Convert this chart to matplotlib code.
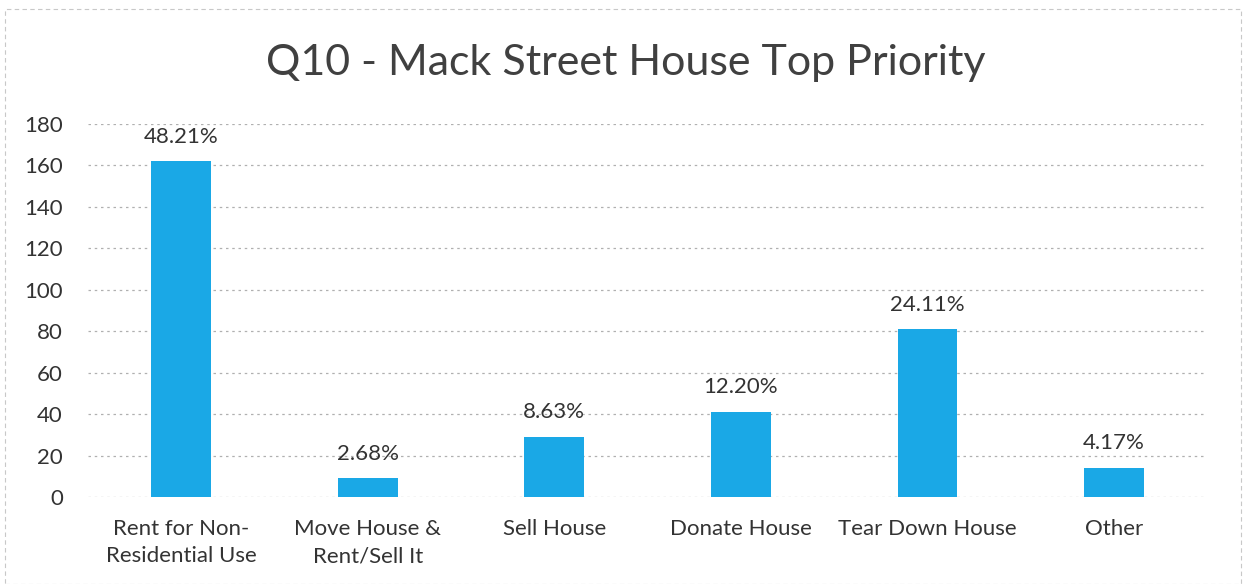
import matplotlib
matplotlib.use('Agg')
from matplotlib import pyplot as plt
from matplotlib.patches import Rectangle

# Data
categories = ['Rent for Non-\nResidential Use', 'Move House &\nRent/Sell It', 'Sell House',
              'Donate House', 'Tear Down House', 'Other']
counts = [162, 9, 29, 41, 81, 14]
pct_labels = ['48.21%', '2.68%', '8.63%', '12.20%', '24.11%', '4.17%']
yticks = [0, 20, 40, 60, 80, 100, 120, 140, 160, 180]

plt.rcParams['font.family'] = ['Lato', 'DejaVu Sans']

fig = plt.figure(figsize=(12.51, 5.84), dpi=100)
ax = fig.add_axes([0.0703, 0.149, 0.8947, 0.639])

x = range(len(categories))
bars = ax.bar(x, counts, width=0.32, color='#1aa8e6', zorder=3)
for b, lab in zip(bars, pct_labels):
    ax.text(b.get_x() + b.get_width() / 2, b.get_height() + 7, lab,
            ha='center', va='bottom', fontsize=16, color='#333333')

ax.set_xlim(-0.5, len(categories) - 0.5)
ax.set_ylim(0, 180)
ax.set_yticks(yticks)
ax.set_xticks(list(x))
ax.set_xticklabels(categories, fontsize=16, color='#333333', linespacing=1.45)
ax.tick_params(axis='y', labelsize=16, labelcolor='#333333', length=0, pad=18)
ax.tick_params(axis='x', length=0, pad=16)
ax.yaxis.grid(True, color='#b0b0b0', linestyle=(0, (2, 3)), linewidth=0.9, zorder=0)
for s in ax.spines.values():
    s.set_visible(False)

fig.suptitle('Q10 - Mack Street House Top Priority', fontsize=31, color='#404040', y=0.925)

# faint chart border
fig.patches.append(Rectangle((0.004, 0.0), 0.988, 0.985, transform=fig.transFigure,
                             fill=False, edgecolor='#c8c8c8', linewidth=0.8,
                             linestyle=(0, (4, 3))))

fig.savefig('out.png', dpi=100)
